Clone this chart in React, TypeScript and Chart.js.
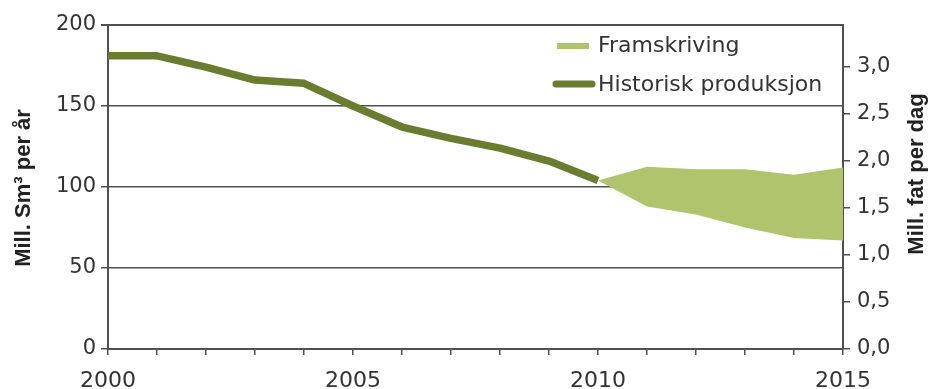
import React, { useEffect, useRef } from 'react';
import { Chart, registerables } from 'chart.js';

Chart.register(...registerables);

// ---- data ----
const histYears = [2000, 2001, 2002, 2003, 2004, 2005, 2006, 2007, 2008, 2009, 2010];
const histValues = [181, 181, 174, 166, 164, 150, 137, 130, 124, 116, 104];
const forecastYears = [2010, 2011, 2012, 2013, 2014, 2015];
const forecastHigh = [104, 112.5, 111, 111, 107.5, 112];
const forecastLow = [104, 88, 83, 75, 68.5, 67];
const xLabelYears = [2000, 2005, 2010, 2015];
const leftTitle = 'Mill. Sm³ per år';
const rightTitle = 'Mill. fat per dag';
const legendLabels = ['Framskriving', 'Historisk produksjon'];
const leftMax = 200;
const bblPerSm3 = 6.29;
const daysPerYear = 365;

const HIST_COLOR = '#6b7b30';
const BAND_COLOR = '#b0c46d';
const AXIS_COLOR = '#505050';
const TICK_COLOR = '#333333';

const decorPlugin = {
  id: 'decor',
  afterDraw(chart: any) {
    const { ctx, chartArea: a } = chart;
    ctx.save();
    // top frame line
    ctx.strokeStyle = AXIS_COLOR;
    ctx.lineWidth = 2;
    ctx.beginPath();
    ctx.moveTo(a.left - 7, a.top);
    ctx.lineTo(a.right, a.top);
    ctx.stroke();

    // axis titles (both read bottom-to-top)
    ctx.fillStyle = '#222222';
    ctx.font = 'bold 22px "Liberation Sans", Arial, sans-serif';
    ctx.textAlign = 'center';
    ctx.textBaseline = 'alphabetic';
    ctx.save();
    ctx.translate(30, 188);
    ctx.rotate(-Math.PI / 2);
    ctx.fillText(leftTitle, 0, 0);
    ctx.restore();
    ctx.save();
    ctx.translate(923, 174);
    ctx.rotate(-Math.PI / 2);
    ctx.fillText(rightTitle, 0, 0);
    ctx.restore();

    // legend
    const tx = a.right - 245;
    ctx.lineCap = 'butt';
    ctx.strokeStyle = BAND_COLOR;
    ctx.lineWidth = 6;
    ctx.beginPath();
    ctx.moveTo(tx - 41, 46);
    ctx.lineTo(tx - 9, 46);
    ctx.stroke();
    ctx.strokeStyle = HIST_COLOR;
    ctx.lineWidth = 7;
    ctx.lineCap = 'round';
    ctx.beginPath();
    ctx.moveTo(tx - 42, 84);
    ctx.lineTo(tx - 6, 84);
    ctx.stroke();
    ctx.fillStyle = '#333333';
    ctx.font = '22px "DejaVu Sans", sans-serif';
    ctx.textAlign = 'left';
    ctx.textBaseline = 'middle';
    ctx.fillText(legendLabels[0], tx, 46);
    ctx.fillText(legendLabels[1], tx, 85);
    ctx.restore();
  },
};

export default function App() {
  const ref = useRef<HTMLCanvasElement | null>(null);

  useEffect(() => {
    if (!ref.current) return;
    const histData = histYears.map((x, i) => ({ x, y: histValues[i] }));
    const highData = forecastYears.map((x, i) => ({ x, y: forecastHigh[i] }));
    const lowData = forecastYears.map((x, i) => ({ x, y: forecastLow[i] }));
    const rightMax = (leftMax * bblPerSm3) / daysPerYear;

    const chart = new Chart(ref.current, {
      type: 'line',
      data: {
        datasets: [
          {
            label: legendLabels[1],
            data: histData,
            borderColor: HIST_COLOR,
            borderWidth: 7.5,
            borderJoinStyle: 'round',
            pointRadius: 0,
            fill: false,
            tension: 0,
            yAxisID: 'y',
          },
          {
            label: legendLabels[0],
            data: highData,
            borderWidth: 0,
            borderColor: BAND_COLOR,
            backgroundColor: BAND_COLOR,
            pointRadius: 0,
            fill: '+1',
            tension: 0,
            yAxisID: 'y',
          },
          {
            label: legendLabels[0] + ' lav',
            data: lowData,
            borderWidth: 0,
            borderColor: BAND_COLOR,
            pointRadius: 0,
            fill: false,
            tension: 0,
            yAxisID: 'y',
          },
        ],
      },
      options: {
        responsive: false,
        animation: false,
        devicePixelRatio: 1,
        layout: { padding: { top: 25, left: 0, right: 0, bottom: 0 } },
        plugins: {
          legend: { display: false },
          tooltip: { enabled: false },
        },
        scales: {
          x: {
            type: 'linear',
            min: 2000,
            max: 2015,
            afterFit: (s: any) => { s.height = 40; },
            ticks: {
              stepSize: 1,
              autoSkip: false,
              maxRotation: 0,
              padding: 13,
              color: TICK_COLOR,
              font: { family: '"DejaVu Sans", sans-serif', size: 22 },
              callback: (v: any) => (xLabelYears.includes(Number(v)) ? String(v) : ''),
            },
            grid: { drawOnChartArea: false, drawTicks: true, tickLength: 6, color: AXIS_COLOR, lineWidth: 1.5 },
            border: { display: true, color: AXIS_COLOR, width: 2 },
          },
          y: {
            type: 'linear',
            position: 'left',
            min: 0,
            max: leftMax,
            afterFit: (s: any) => { s.width = 108; },
            ticks: {
              stepSize: 50,
              padding: 5,
              color: TICK_COLOR,
              font: { family: '"DejaVu Sans", sans-serif', size: 21 },
            },
            grid: { color: AXIS_COLOR, lineWidth: 1.5, tickLength: 7 },
            border: { display: true, color: AXIS_COLOR, width: 2 },
          },
          y1: {
            type: 'linear',
            position: 'right',
            min: 0,
            max: rightMax,
            afterFit: (s: any) => { s.width = 89; },
            ticks: {
              stepSize: 0.5,
              includeBounds: false,
              padding: 7,
              color: TICK_COLOR,
              font: { family: '"DejaVu Sans", sans-serif', size: 21 },
              callback: (v: any) => Number(v).toFixed(1).replace('.', ','),
            },
            grid: { drawOnChartArea: false, tickLength: 7, color: AXIS_COLOR, lineWidth: 1.5 },
            border: { display: true, color: AXIS_COLOR, width: 2 },
          },
        },
      },
      plugins: [decorPlugin],
    });
    return () => chart.destroy();
  }, []);

  return (
    <div style={{ position: 'absolute', left: 0, top: 0, width: 932, height: 389, background: '#fff' }}>
      <canvas ref={ref} width={932} height={389} style={{ display: 'block' }} />
    </div>
  );
}
